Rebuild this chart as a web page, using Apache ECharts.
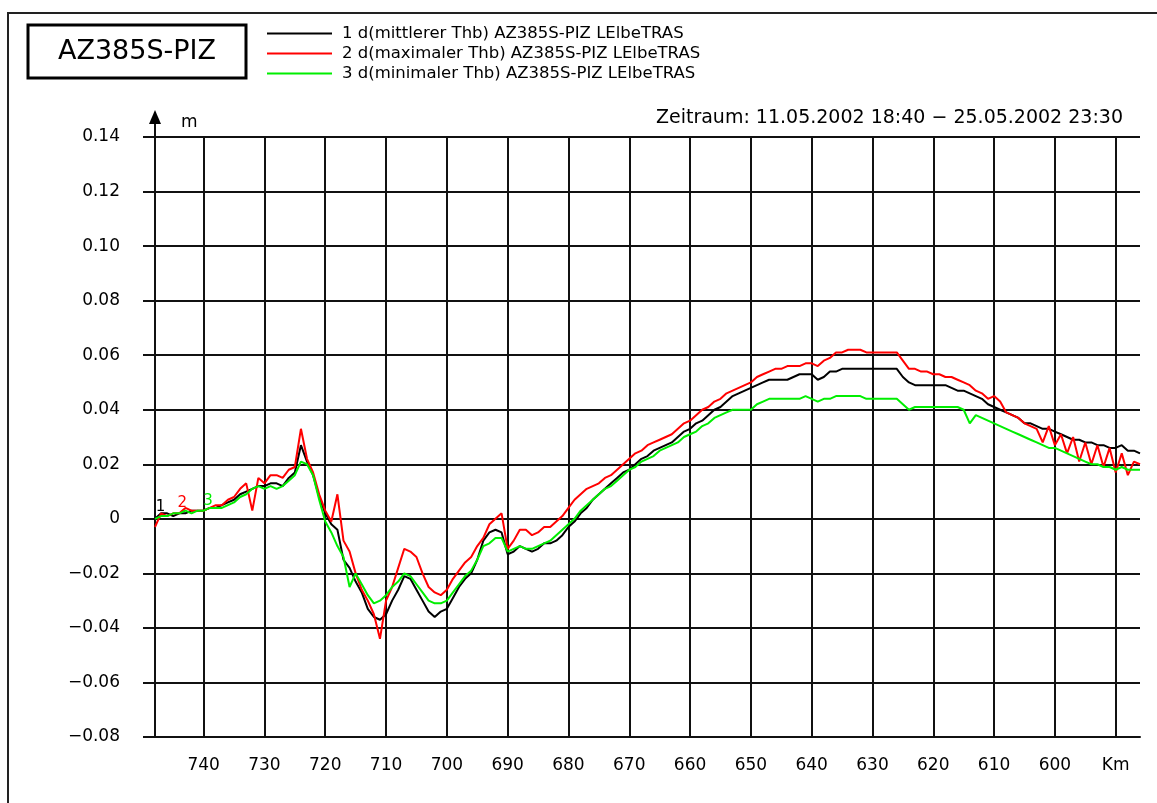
<!DOCTYPE html>
<html>
<head>
<meta charset="utf-8">
<title>AZ385S-PIZ</title>
<script src="https://cdn.jsdelivr.net/npm/echarts@6/dist/echarts.min.js"></script>
<style>
  html, body { margin: 0; padding: 0; background: #fff; }
  #chart { width: 1157px; height: 803px; }
</style>
</head>
<body>
<div id="chart"></div>
<script>
// Elbe-Kilometer (Flusskilometer), links 748 bis rechts 586
const km = [
  748, 747, 746, 745, 744, 743, 742, 741, 740, 739,
  738, 737, 736, 735, 734, 733, 732, 731, 730, 729,
  728, 727, 726, 725, 724, 723, 722, 721, 720, 719,
  718, 717, 716, 715, 714, 713, 712, 711, 710, 709,
  708, 707, 706, 705, 704, 703, 702, 701, 700, 699,
  698, 697, 696, 695, 694, 693, 692, 691, 690, 689,
  688, 687, 686, 685, 684, 683, 682, 681, 680, 679,
  678, 677, 676, 675, 674, 673, 672, 671, 670, 669,
  668, 667, 666, 665, 664, 663, 662, 661, 660, 659,
  658, 657, 656, 655, 654, 653, 652, 651, 650, 649,
  648, 647, 646, 645, 644, 643, 642, 641, 640, 639,
  638, 637, 636, 635, 634, 633, 632, 631, 630, 629,
  628, 627, 626, 625, 624, 623, 622, 621, 620, 619,
  618, 617, 616, 615, 614, 613, 612, 611, 610, 609,
  608, 607, 606, 605, 604, 603, 602, 601, 600, 599,
  598, 597, 596, 595, 594, 593, 592, 591, 590, 589,
  588, 587, 586
];

// 1: Differenz mittlerer Thb [m]
const mittlerer = [
  0.000, 0.002, 0.002, 0.001, 0.002, 0.002, 0.003, 0.003, 0.003, 0.004,
  0.004, 0.005, 0.006, 0.007, 0.009, 0.010, 0.011, 0.012, 0.012, 0.013,
  0.013, 0.012, 0.015, 0.017, 0.027, 0.021, 0.016, 0.008, 0.002, -0.002,
  -0.004, -0.015, -0.018, -0.023, -0.027, -0.033, -0.036, -0.037, -0.035, -0.030,
  -0.026, -0.021, -0.022, -0.026, -0.030, -0.034, -0.036, -0.034, -0.033, -0.029,
  -0.025, -0.022, -0.020, -0.015, -0.008, -0.005, -0.004, -0.005, -0.013, -0.012,
  -0.010, -0.011, -0.012, -0.011, -0.009, -0.009, -0.008, -0.006, -0.003, -0.001,
  0.002, 0.004, 0.007, 0.009, 0.011, 0.013, 0.015, 0.017, 0.018, 0.020,
  0.022, 0.023, 0.025, 0.026, 0.027, 0.028, 0.030, 0.032, 0.033, 0.035,
  0.036, 0.038, 0.040, 0.041, 0.043, 0.045, 0.046, 0.047, 0.048, 0.049,
  0.050, 0.051, 0.051, 0.051, 0.051, 0.052, 0.053, 0.053, 0.053, 0.051,
  0.052, 0.054, 0.054, 0.055, 0.055, 0.055, 0.055, 0.055, 0.055, 0.055,
  0.055, 0.055, 0.055, 0.052, 0.050, 0.049, 0.049, 0.049, 0.049, 0.049,
  0.049, 0.048, 0.047, 0.047, 0.046, 0.045, 0.044, 0.042, 0.041, 0.040,
  0.039, 0.038, 0.037, 0.035, 0.035, 0.034, 0.033, 0.033, 0.032, 0.031,
  0.030, 0.029, 0.029, 0.028, 0.028, 0.027, 0.027, 0.026, 0.026, 0.027,
  0.025, 0.025, 0.024
];

// 2: Differenz maximaler Thb [m]
const maximaler = [
  -0.003, 0.002, 0.001, 0.002, 0.002, 0.004, 0.003, 0.003, 0.003, 0.004,
  0.005, 0.005, 0.007, 0.008, 0.011, 0.013, 0.003, 0.015, 0.013, 0.016,
  0.016, 0.015, 0.018, 0.019, 0.033, 0.022, 0.017, 0.009, 0.003, -0.001,
  0.009, -0.008, -0.012, -0.020, -0.026, -0.030, -0.035, -0.044, -0.030, -0.025,
  -0.018, -0.011, -0.012, -0.014, -0.020, -0.025, -0.027, -0.028, -0.026, -0.022,
  -0.019, -0.016, -0.014, -0.010, -0.007, -0.002, 0.000, 0.002, -0.011, -0.008,
  -0.004, -0.004, -0.006, -0.005, -0.003, -0.003, -0.001, 0.001, 0.004, 0.007,
  0.009, 0.011, 0.012, 0.013, 0.015, 0.016, 0.018, 0.020, 0.022, 0.024,
  0.025, 0.027, 0.028, 0.029, 0.030, 0.031, 0.033, 0.035, 0.036, 0.038,
  0.040, 0.041, 0.043, 0.044, 0.046, 0.047, 0.048, 0.049, 0.050, 0.052,
  0.053, 0.054, 0.055, 0.055, 0.056, 0.056, 0.056, 0.057, 0.057, 0.056,
  0.058, 0.059, 0.061, 0.061, 0.062, 0.062, 0.062, 0.061, 0.061, 0.061,
  0.061, 0.061, 0.061, 0.058, 0.055, 0.055, 0.054, 0.054, 0.053, 0.053,
  0.052, 0.052, 0.051, 0.050, 0.049, 0.047, 0.046, 0.044, 0.045, 0.043,
  0.039, 0.038, 0.037, 0.035, 0.034, 0.033, 0.028, 0.034, 0.027, 0.031,
  0.024, 0.030, 0.021, 0.028, 0.020, 0.027, 0.019, 0.026, 0.017, 0.024,
  0.016, 0.021, 0.020
];

// 3: Differenz minimaler Thb [m]
const minimaler = [
  0.000, 0.001, 0.001, 0.002, 0.002, 0.003, 0.002, 0.003, 0.003, 0.004,
  0.004, 0.004, 0.005, 0.006, 0.008, 0.009, 0.011, 0.012, 0.011, 0.012,
  0.011, 0.012, 0.014, 0.016, 0.021, 0.020, 0.016, 0.007, -0.001, -0.005,
  -0.010, -0.014, -0.025, -0.020, -0.024, -0.028, -0.031, -0.030, -0.028, -0.025,
  -0.023, -0.020, -0.021, -0.024, -0.027, -0.030, -0.031, -0.031, -0.030, -0.027,
  -0.024, -0.021, -0.019, -0.015, -0.010, -0.009, -0.007, -0.007, -0.012, -0.011,
  -0.010, -0.011, -0.011, -0.010, -0.009, -0.008, -0.006, -0.004, -0.002, 0.000,
  0.003, 0.005, 0.007, 0.009, 0.011, 0.012, 0.014, 0.016, 0.018, 0.019,
  0.021, 0.022, 0.023, 0.025, 0.026, 0.027, 0.028, 0.030, 0.031, 0.032,
  0.034, 0.035, 0.037, 0.038, 0.039, 0.040, 0.040, 0.040, 0.040, 0.042,
  0.043, 0.044, 0.044, 0.044, 0.044, 0.044, 0.044, 0.045, 0.044, 0.043,
  0.044, 0.044, 0.045, 0.045, 0.045, 0.045, 0.045, 0.044, 0.044, 0.044,
  0.044, 0.044, 0.044, 0.042, 0.040, 0.041, 0.041, 0.041, 0.041, 0.041,
  0.041, 0.041, 0.041, 0.040, 0.035, 0.038, 0.037, 0.036, 0.035, 0.034,
  0.033, 0.032, 0.031, 0.030, 0.029, 0.028, 0.027, 0.026, 0.026, 0.025,
  0.024, 0.023, 0.022, 0.021, 0.020, 0.020, 0.019, 0.019, 0.018, 0.019,
  0.018, 0.018, 0.018
];

const seriesNames = [
  '1 d(mittlerer Thb) AZ385S-PIZ LElbeTRAS',
  '2 d(maximaler Thb) AZ385S-PIZ LElbeTRAS',
  '3 d(minimaler Thb) AZ385S-PIZ LElbeTRAS'
];
const seriesColors = ['#000000', '#ff0000', '#00ee00'];
const seriesValues = [mittlerer, maximaler, minimaler];
// Kennziffern an den Kurvenanfängen: [km, Wert]
const curveTags = [[747.1, 0.0043], [743.5, 0.0058], [739.3, 0.0065]];

const xTickLabels = [740, 730, 720, 710, 700, 690, 680, 670, 660, 650, 640, 630, 620, 610, 600, 'Km'];
const stationTitle = 'AZ385S-PIZ';
const periodText = 'Zeitraum: 11.05.2002 18:40 \u2212 25.05.2002 23:30';

// Plot frame (pixels)
const W = 1157, H = 803;
const plot = { left: 155, top: 137, right: 1140, bottom: 737 };
const kmMax = 748, kmMin = 586;          // data axis extent (reversed)
const tickFirst = 740, tickLast = 590;   // labelled grid
const pxPerKm = (plot.right - plot.left) / (kmMax - kmMin);
const tickLeft = plot.left + (kmMax - tickFirst) * pxPerKm;
const tickRight = plot.left + (kmMax - tickLast) * pxPerKm;

const FONT = 'DejaVu Sans';
const gridColor = '#111';

const chart = echarts.init(document.getElementById('chart'), null, { renderer: 'canvas' });

const series = seriesValues.map((vals, i) => ({
  name: seriesNames[i],
  type: 'line',
  xAxisIndex: 0,
  yAxisIndex: 0,
  data: km.map((k, j) => [k, vals[j]]),
  showSymbol: false,
  symbol: 'none',
  color: seriesColors[i],
  lineStyle: { width: 2, color: seriesColors[i] },
  itemStyle: { color: seriesColors[i] },
  z: 3 + i,
  markPoint: {
    symbol: 'circle',
    symbolSize: 1,
    itemStyle: { color: 'rgba(0,0,0,0)' },
    label: {
      show: true,
      position: 'inside',
      formatter: String(i + 1),
      color: seriesColors[i],
      fontFamily: FONT,
      fontSize: 15
    },
    data: [{ coord: curveTags[i] }]
  }
}));

chart.setOption({
  animation: false,
  backgroundColor: '#fff',
  textStyle: { fontFamily: FONT, color: '#000' },
  legend: {
    orient: 'vertical',
    left: 267,
    top: 25,
    padding: 0,
    itemGap: 3,
    itemWidth: 65,
    itemHeight: 2,
    icon: 'rect',
    selectedMode: false,
    textStyle: { fontFamily: FONT, fontSize: 16.5, color: '#000', padding: [0, 0, 0, 5] },
    data: seriesNames
  },
  grid: [
    { left: plot.left, top: plot.top, width: plot.right - plot.left, height: plot.bottom - plot.top, containLabel: false },
    { left: tickLeft, top: plot.top, width: tickRight - tickLeft, height: plot.bottom - plot.top, containLabel: false }
  ],
  xAxis: [
    {
      type: 'value', gridIndex: 0, min: kmMin, max: kmMax, inverse: true,
      axisLine: { show: true, onZero: false, lineStyle: { color: gridColor, width: 2 } },
      axisTick: { show: false }, axisLabel: { show: false }, splitLine: { show: false }
    },
    {
      type: 'value', gridIndex: 1, min: tickLast, max: tickFirst, interval: 10, inverse: true,
      axisLine: { show: false },
      axisTick: { show: true, length: 12, lineStyle: { color: gridColor, width: 2 } },
      axisLabel: {
        show: true, margin: 20, fontFamily: FONT, fontSize: 17, color: '#000',
        formatter: v => String(xTickLabels[Math.round((tickFirst - v) / 10)])
      },
      splitLine: { show: true, lineStyle: { color: gridColor, width: 2 } }
    }
  ],
  yAxis: [
    {
      type: 'value', gridIndex: 0, min: -0.08, max: 0.14, interval: 0.02,
      axisLine: { show: true, onZero: false, lineStyle: { color: gridColor, width: 2 } },
      axisTick: { show: true, length: 12, lineStyle: { color: gridColor, width: 2 } },
      axisLabel: {
        show: true, margin: 35, fontFamily: FONT, fontSize: 17, color: '#000',
        formatter: v => Math.abs(v) < 1e-9 ? '0' : (v < 0 ? '\u2212' : '') + Math.abs(v).toFixed(2)
      },
      splitLine: { show: true, lineStyle: { color: gridColor, width: 2 } }
    },
    {
      type: 'value', gridIndex: 1, min: -0.08, max: 0.14, show: false,
      splitLine: { show: false }
    }
  ],
  series: series,
  graphic: [
    // outer frame
    { type: 'rect', shape: { x: 8, y: 13, width: W + 40, height: H + 40 }, style: { fill: 'none', stroke: '#222', lineWidth: 2 }, silent: true },
    // station box
    { type: 'rect', shape: { x: 28, y: 25, width: 218, height: 53 }, style: { fill: '#fff', stroke: '#000', lineWidth: 3 }, silent: true },
    { type: 'text', x: 137, y: 52, style: { text: stationTitle, font: '27px "DejaVu Sans"', fill: '#000', align: 'center', verticalAlign: 'middle' }, silent: true },
    // period
    { type: 'text', x: 1123, y: 118, style: { text: periodText, font: '19px "DejaVu Sans"', fill: '#000', align: 'right', verticalAlign: 'middle' }, silent: true },
    // y axis extension with arrow head and unit
    { type: 'line', shape: { x1: plot.left, y1: plot.top, x2: plot.left, y2: 120 }, style: { stroke: gridColor, lineWidth: 2 }, silent: true },
    { type: 'polygon', shape: { points: [[plot.left - 6, 124], [plot.left + 6, 124], [plot.left, 110]] }, style: { fill: '#000' }, silent: true },
    { type: 'text', x: 181, y: 123, style: { text: 'm', font: '17px "DejaVu Sans"', fill: '#000', align: 'left', verticalAlign: 'middle' }, silent: true }
  ]
});
</script>
</body>
</html>
